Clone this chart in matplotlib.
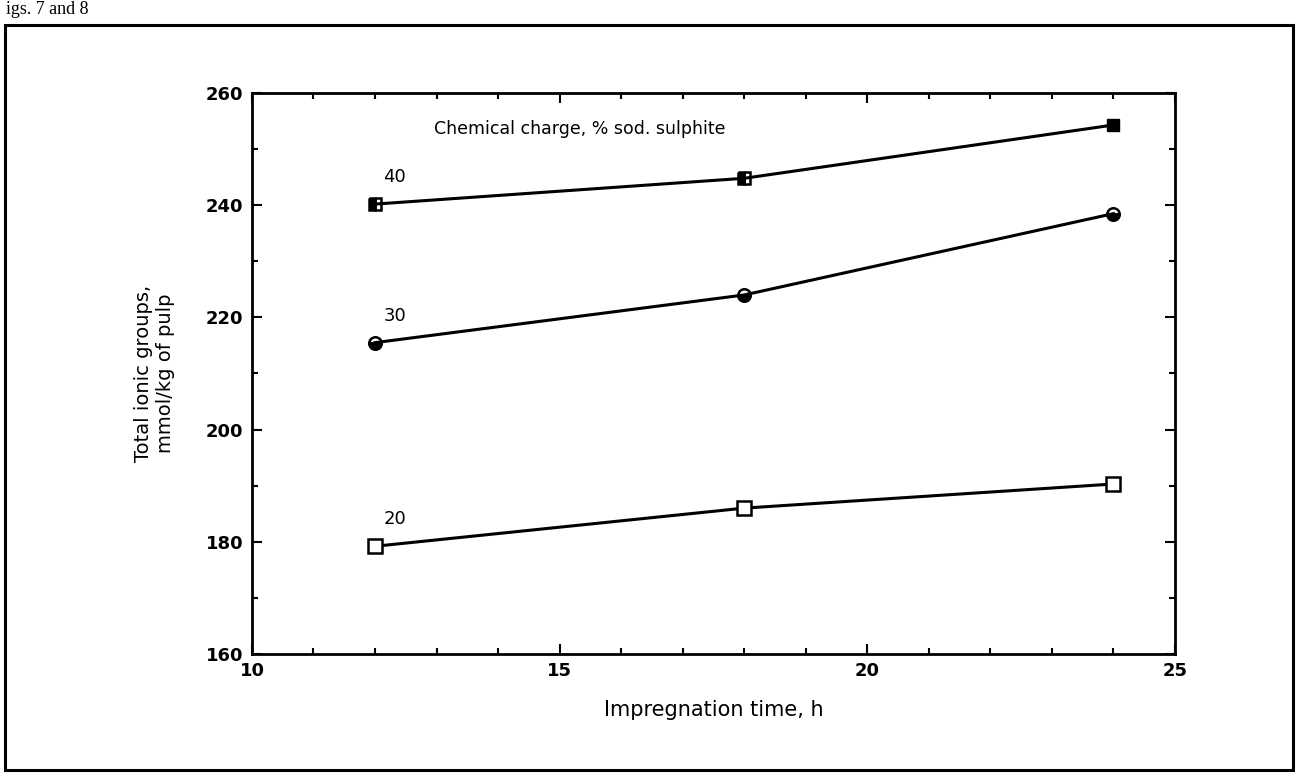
import matplotlib.pyplot as plt
from matplotlib.patches import Rectangle
from matplotlib.ticker import MultipleLocator

# impregnation time, h
hours = [12, 18, 24]
# total ionic groups, mmol/kg, per sodium sulphite charge
charge_40 = [240.2, 244.8, 254.3]
charge_30 = [215.5, 224.0, 238.5]
charge_20 = [179.2, 186.0, 190.3]
series_labels = ["40", "30", "20"]

fig = plt.figure(figsize=(12.96, 7.83), dpi=100)
ax = fig.add_axes([0.1944, 0.1648, 0.7122, 0.7164])

# outer frame around the figure
fig.patches.append(Rectangle((0.004, 0.017), 0.994, 0.951, transform=fig.transFigure,
                             fill=False, lw=2.2, color='black'))
fig.text(0.005, 0.988, "igs. 7 and 8", fontsize=13, family='Liberation Serif',
         va='center', ha='left')

lw = 2.2
ax.plot(hours, charge_40, color='black', lw=lw, zorder=2)
ax.plot(hours[:2], charge_40[:2], ls='none', marker='s', ms=9, mfc='black', mec='black',
        mew=1.8, fillstyle='left', zorder=3)
ax.plot(hours[2:], charge_40[2:], ls='none', marker='s', ms=9, mfc='black', mec='black', zorder=3)

ax.plot(hours, charge_30, color='black', lw=lw, zorder=2)
ax.plot(hours, charge_30, ls='none', marker='o', ms=9, mfc='black', mec='black', mew=1.8,
        fillstyle='bottom', zorder=3)

ax.plot(hours, charge_20, color='black', lw=lw, zorder=2)
ax.plot(hours, charge_20, ls='none', marker='s', ms=10, mfc='white', mec='black', mew=1.8,
        zorder=3)

for lab, vals in zip(series_labels, [charge_40, charge_30, charge_20]):
    ax.annotate(lab, (hours[0], vals[0]), xytext=(6, 13), textcoords='offset points',
                fontsize=13, ha='left', va='bottom')

ax.text(0.197, 0.935, "Chemical charge, % sod. sulphite", transform=ax.transAxes,
        fontsize=12.5, ha='left', va='center')

ax.set_xlim(10, 25)
ax.set_ylim(160, 260)
ax.xaxis.set_major_locator(MultipleLocator(5))
ax.xaxis.set_minor_locator(MultipleLocator(1))
ax.yaxis.set_major_locator(MultipleLocator(20))
ax.yaxis.set_minor_locator(MultipleLocator(10))
ax.tick_params(which='both', direction='in', top=True, right=True, width=1.5)
ax.tick_params(which='major', length=7, labelsize=13, pad=6)
ax.tick_params(which='minor', length=4)
for lbl in ax.get_xticklabels() + ax.get_yticklabels():
    lbl.set_fontweight('bold')
for s in ax.spines.values():
    s.set_linewidth(2)

ax.set_xlabel("Impregnation time, h", fontsize=15, labelpad=14)
ax.set_ylabel("Total ionic groups,\nmmol/kg of pulp", fontsize=14, labelpad=22)

fig.savefig("out.png", dpi=100)
